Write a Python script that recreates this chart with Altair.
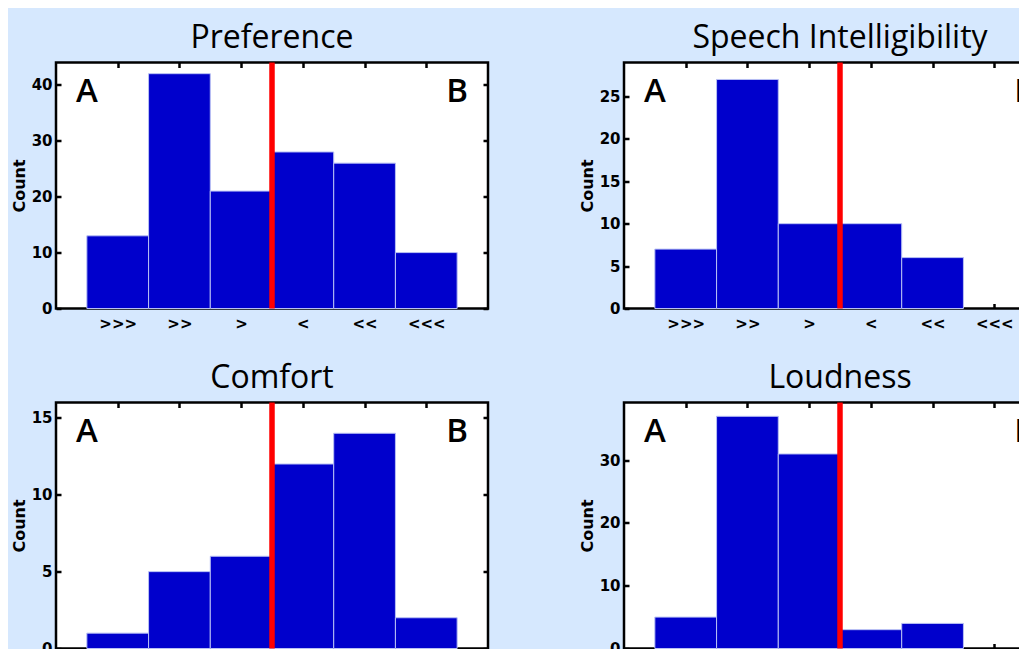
import json
import altair as alt
import pandas as pd

# ---- data ----
positions = [1, 2, 3, 4, 5, 6]
cat_labels = [">>>", ">>", ">", "<", "<<", "<<<"]
titles = ["Preference", "Speech Intelligibility", "Comfort", "Loudness"]
pref = [13, 42, 21, 28, 26, 10]
speech = [7, 27, 10, 10, 6, 0]
comfort = [1, 5, 6, 12, 14, 2]
loud = [5, 37, 31, 3, 4, 0]
ymaxes = [44, 29, 16, 39.2]
yticks = [[0, 10, 20, 30, 40], [0, 5, 10, 15, 20, 25], [0, 5, 10, 15], [0, 10, 20, 30]]
divider = [3.5]
side_labels = ["A", "B"]
side_pos = [0.5, 6.5]
x_domain = [0, 7]

TITLE_FONT = "Open Sans"
AXIS_FONT = "DejaVu Sans"
PW, PH = 432, 246
TICK = 5


def panel(title, counts, ymax, yt):
    df = pd.DataFrame({"pos": positions, "count": counts})
    xs = alt.Scale(domain=x_domain, nice=False, zero=False)
    ys = alt.Scale(domain=[0, ymax], nice=False, zero=True)
    label_expr = json.dumps(cat_labels) + "[datum.value - 1]"
    tick_common = dict(offset=-TICK, tickSize=TICK, tickWidth=2.5, tickColor="black",
                       domain=False, grid=False)

    bars = alt.Chart(df).transform_filter("datum.count > 0").transform_calculate(
        x0="datum.pos - 0.5", x1="datum.pos + 0.5"
    ).mark_rect(fill="#0000cc", stroke="#b8c0f4", strokeWidth=1).encode(
        x=alt.X("x0:Q", scale=xs, title=None,
                axis=alt.Axis(orient="bottom", values=positions, labelExpr=label_expr,
                              labelPadding=8, **tick_common)),
        x2="x1:Q",
        y=alt.Y("count:Q", scale=ys, title="Count",
                axis=alt.Axis(orient="left", values=yt, labelPadding=4,
                              titlePadding=4, **tick_common)),
        y2=alt.datum(0),
    )

    ticks_layer = alt.Chart(df).transform_calculate(
        x0="datum.pos - 0.5", x1="datum.pos + 0.5"
    ).mark_rect(opacity=0).encode(
        x=alt.X("x0:Q", scale=xs, title=None,
                axis=alt.Axis(orient="top", values=positions, labels=False, **tick_common)),
        x2="x1:Q",
        y=alt.Y("count:Q", scale=ys, title=None,
                axis=alt.Axis(orient="right", values=yt, labels=False, **tick_common)),
        y2=alt.datum(0),
    )

    rule = alt.Chart(pd.DataFrame({"x": divider})).mark_rule(
        color="#ff0000", strokeWidth=5.5
    ).encode(x=alt.X("x:Q", scale=xs, axis=None))

    txt = alt.Chart(pd.DataFrame({"lab": side_labels, "x": side_pos})).mark_text(
        fontSize=33, font=TITLE_FONT, fontWeight=600, baseline="alphabetic",
        align="center", color="black"
    ).encode(x=alt.X("x:Q", scale=xs, axis=None), y=alt.value(39.5), text="lab:N")

    return alt.layer(bars, rule, txt, ticks_layer).resolve_axis(
        x="independent", y="independent"
    ).properties(
        width=PW, height=PH,
        title=alt.Title(title, font=TITLE_FONT, fontSize=32, fontWeight=500,
                        color="black", offset=5, anchor="middle"),
    )


panels = [panel(t, c, m, yt) for t, c, m, yt in
          zip(titles, [pref, speech, comfort, loud], ymaxes, yticks)]

chart = alt.concat(*panels, columns=2, spacing={"row": 94, "column": 136},
                   bounds="flush").properties(
    background="#d6e8fe",
    autosize=alt.AutoSizeParams(type="none"),
    padding={"left": 48, "top": 54.5, "right": 963, "bottom": 586},
).configure_view(
    stroke="black", strokeWidth=2.5, fill="white"
).configure_axis(
    labelFont=AXIS_FONT, labelFontSize=15, labelFontWeight="bold", labelColor="black",
    titleFont=AXIS_FONT, titleFontSize=16, titleFontWeight="bold", titleColor="black",
)

chart.save("out.html", embed_options={"renderer": "svg", "actions": False})
